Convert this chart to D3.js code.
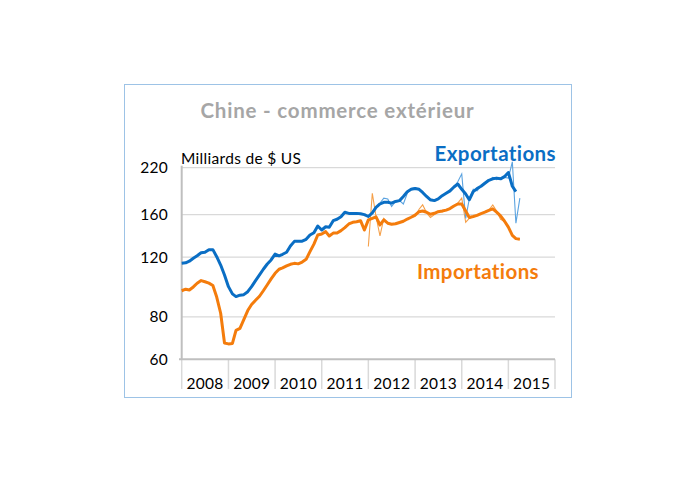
<!DOCTYPE html>
<html>
<head>
<meta charset="utf-8">
<script src="https://cdn.jsdelivr.net/npm/d3@7"></script>
<style>
  body { margin: 0; background: #fff; }
  svg { display: block; font-family: Lato, "Open Sans", sans-serif; }
</style>
</head>
<body>
<div id="chart"></div>
<script>
// Monthly values, billions of US$
const exportsSmooth = [
  115.1, 115.4, 116.7, 119.0, 121.1, 123.6, 124.0, 126.2, 126.2, 120.3, 113.7, 106.3, // 2008
  98.2, 93.5, 91.8, 92.7, 93.0, 94.9, 98.2, 102.3, 106.3, 110.5, 114.5, 117.7,        // 2009
  122.5, 121.0, 122.3, 124.0, 129.4, 133.5, 133.7, 133.7, 135.4, 139.4, 141.6, 148.2, // 2010
  144.2, 147.4, 147.0, 153.6, 155.1, 157.8, 162.6, 161.4, 161.4, 161.4, 161.0, 160.0, // 2011
  158, 162, 168, 172, 174, 174, 173, 175, 176, 181, 187, 190,                         // 2012
  191, 190, 186, 181, 177, 176, 178, 182, 185, 188, 193, 197,                         // 2013
  190, 184, 177, 187, 191, 194, 198, 202, 204, 205, 204, 207,                         // 2014
  213, 194, 187                                                                       // 2015
];
const importsSmooth = [
  95.5, 96.5, 96.0, 98.0, 100.5, 102.3, 101.5, 100.6, 99.0, 91.5, 82.0, 67.0,
  66.6, 66.8, 73.0, 74.0, 78.5, 83.5, 87.0, 89.5, 92.0, 95.5, 99.5, 103.5,
  107.5, 110.5, 111.5, 113.0, 114.3, 115.0, 114.6, 116.0, 118.2, 124.5, 131.0, 139.4,
  140.3, 142.6, 138.4, 141.2, 141.2, 143.6, 146.5, 150.2, 151.9, 152.5, 153.6, 144.2,
  154.4, 156.0, 157.6, 149.2, 154.4, 151.0, 150.0, 150.4, 151.7, 153.0, 155.3, 157.2,
  159.6, 163.3, 164.0, 162.6, 160.4, 161.5, 163.3, 164.0, 165.0, 166.7, 169.7, 172.0,
  172.0, 164.0, 157.0, 158.0, 159.2, 161.1, 162.7, 164.8, 166.5, 162.7, 158.6, 153.3,
  147.0, 139.0, 136.0, 135.5
];
// raw monthly figures, from January 2012
const exportsRaw = [
  157, 163, 168, 173, 179, 178, 169, 175, 176, 172, 185, 191,
  192, 190, 185, 180, 176, 176, 179, 182, 186, 187, 192, 200,
  211, 156, 178, 190, 188, 194, 199, 202, 206, 203, 204, 206,
  205, 229, 151, 179
];
const importsRaw = [
  129, 185, 158, 138.5, 156, 151, 150, 151, 152, 153, 156, 157,
  158, 166, 171, 162, 157, 160, 164, 163, 165, 167, 170, 173,
  179, 152, 156, 158, 160, 161, 163, 165, 171, 164, 155, 153,
  147, 139, 136, 135.5
];
const yTicks = [60, 80, 120, 160, 220];
const years = [2008, 2009, 2010, 2011, 2012, 2013, 2014, 2015];

const monthly = (vals, y0) => vals.map((v, i) => ({ date: new Date(y0, i, 1), v }));

const W = 695, H = 483;
const svg = d3.select('#chart').append('svg')
  .attr('width', W).attr('height', H);

// frame
svg.append('rect')
  .attr('x', 124.5).attr('y', 84.5).attr('width', 447).attr('height', 313)
  .attr('fill', '#fff').attr('stroke', '#9dc3e6').attr('stroke-width', 1);

const x = d3.scaleTime()
  .domain([new Date(2008, 0, 1), new Date(2016, 0, 1)])
  .range([181.7, 555]);
const y = d3.scaleLog()
  .domain([60, 220])
  .range([359.3, 167.7]);

// horizontal gridlines
svg.append('g')
  .selectAll('line')
  .data(yTicks.filter(d => d !== 60))
  .join('line')
  .attr('x1', x.range()[0]).attr('x2', x.range()[1])
  .attr('y1', d => y(d)).attr('y2', d => y(d))
  .attr('stroke', '#d9d9d9').attr('stroke-width', 1.2);

// y labels
svg.append('g')
  .selectAll('text')
  .data(yTicks)
  .join('text')
  .attr('x', 168).attr('y', d => y(d) + 5.5)
  .attr('text-anchor', 'end')
  .attr('font-size', 15.5).attr('letter-spacing', 0.3).attr('fill', '#000')
  .text(d => d);

// year separators and labels
const bounds = years.map(yr => new Date(yr, 0, 1)).concat([new Date(2016, 0, 1)]);
svg.append('g')
  .selectAll('line')
  .data(bounds)
  .join('line')
  .attr('x1', d => x(d)).attr('x2', d => x(d))
  .attr('y1', y(60)).attr('y2', 389)
  .attr('stroke', '#d9d9d9').attr('stroke-width', 1.5);

svg.append('g')
  .selectAll('text')
  .data(years)
  .join('text')
  .attr('x', d => (x(new Date(d, 0, 1)) + x(new Date(d + 1, 0, 1))) / 2)
  .attr('y', 388.5)
  .attr('text-anchor', 'middle')
  .attr('font-size', 15.5).attr('letter-spacing', 0.3).attr('fill', '#000')
  .text(d => d);

// axes lines
svg.append('line')
  .attr('x1', 179).attr('x2', x.range()[1])
  .attr('y1', y(60)).attr('y2', y(60))
  .attr('stroke', '#bfbfbf').attr('stroke-width', 2);
svg.append('line')
  .attr('x1', x.range()[0]).attr('x2', x.range()[0])
  .attr('y1', y(220) - 2).attr('y2', y(60))
  .attr('stroke', '#bfbfbf').attr('stroke-width', 2);

const line = d3.line().x(d => x(d.date)).y(d => y(d.v));

// thin raw lines first, smoothed lines on top
svg.append('path').datum(monthly(importsRaw, 2012))
  .attr('d', line).attr('fill', 'none')
  .attr('stroke', '#f5a04a').attr('stroke-width', 1.1);
svg.append('path').datum(monthly(exportsRaw, 2012))
  .attr('d', line).attr('fill', 'none')
  .attr('stroke', '#5ba3e0').attr('stroke-width', 1.1);

svg.append('path').datum(monthly(importsSmooth, 2008))
  .attr('d', line).attr('fill', 'none')
  .attr('stroke', '#f47c0c').attr('stroke-width', 3).attr('stroke-linejoin', 'round');
svg.append('path').datum(monthly(exportsSmooth, 2008))
  .attr('d', line).attr('fill', 'none')
  .attr('stroke', '#0a6ec4').attr('stroke-width', 3).attr('stroke-linejoin', 'round');

// texts
svg.append('text')
  .attr('x', 337.5).attr('y', 118)
  .attr('text-anchor', 'middle')
  .attr('font-size', 20.5).attr('font-weight', 'bold').attr('letter-spacing', 0.8)
  .attr('fill', '#a6a6a6')
  .text('Chine - commerce extérieur');

svg.append('text')
  .attr('x', 181).attr('y', 164)
  .attr('font-size', 15.5).attr('letter-spacing', 0.3).attr('fill', '#000')
  .text('Milliards de $ US');

svg.append('text')
  .attr('x', 556).attr('y', 161)
  .attr('text-anchor', 'end')
  .attr('font-size', 20.5).attr('font-weight', 'bold').attr('letter-spacing', 0.4)
  .attr('fill', '#0a6ec4')
  .text('Exportations');

svg.append('text')
  .attr('x', 539).attr('y', 279)
  .attr('text-anchor', 'end')
  .attr('font-size', 20.5).attr('font-weight', 'bold').attr('letter-spacing', 0.4)
  .attr('fill', '#f47c0c')
  .text('Importations');
</script>
</body>
</html>
